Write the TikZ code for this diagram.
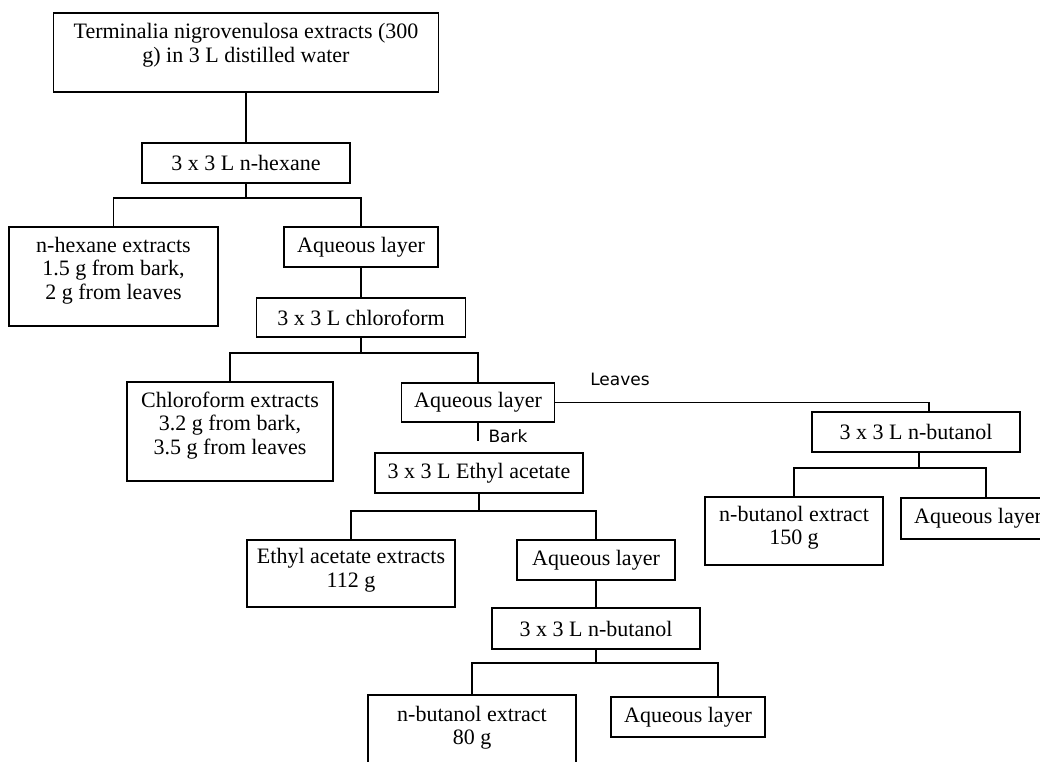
\documentclass[tikz,border=0pt]{standalone}
\usepackage{fontspec}
\setmainfont{Liberation Serif}
\newfontfamily\tagfont{DejaVu Sans}
\begin{document}
\begin{tikzpicture}
        [
            x = 1pt, y = -1pt,
            box/.style={draw, line width=1.8pt, inner sep=0pt, align=center,
                font=\fontsize{22}{23.5}\selectfont},
            solvent/.style={box, minimum width=208pt, minimum height=40pt},
            layer/.style={box, minimum width=154pt, minimum height=40pt},
            extract/.style={box, minimum width=208pt, minimum height=#1},
            tag/.style={inner sep=0pt, font=\tagfont\fontsize{17}{20}\selectfont},
            link/.style={line width=1.8pt},
        ]
        \useasboundingbox (0,0) rectangle (1040,761);
        \node[box, minimum width=385pt, minimum height=79pt, text depth=19pt] (water) at (246,52.5)
            {Terminalia nigrovenulosa extracts (300\\g) in 3 L distilled water};
        \node[solvent] (hexane) at (246,163) {3 x 3 L n-hexane};
        \node[extract=99pt, minimum width=209pt, text depth=17pt] (hexext) at (113.5,276.5)
            {n-hexane extracts\\1.5 g from bark,\\2 g from leaves};
        \node[layer] (aq1) at (361,247) {Aqueous layer};
        \node[solvent, minimum width=209pt, minimum height=39pt] (chloro) at (361,317.5) {3 x 3 L chloroform};
        \node[extract=99pt, minimum width=206pt, text depth=17pt] (chlext) at (230,431.5)
            {Chloroform extracts\\3.2 g from bark,\\3.5 g from leaves};
        \node[layer, minimum width=153pt, minimum height=39pt] (aq2) at (478,402.5) {Aqueous layer};
        \node[solvent] (ethyl) at (479,473) {3 x 3 L Ethyl acetate};
        \node[extract=67pt, text depth=11pt] (ethext) at (351,573.5) {Ethyl acetate extracts\\112 g};
        \node[layer, minimum width=158pt] (aq3) at (596,560) {Aqueous layer};
        \node[solvent, minimum height=41pt] (butA) at (596,628.5) {3 x 3 L n-butanol};
        \node[extract=72pt, text depth=11pt] (butAext) at (472,731) {n-butanol extract\\80 g};
        \node[layer] (aq4) at (688,717) {Aqueous layer};
        \node[solvent] (butB) at (916,432) {3 x 3 L n-butanol};
        \node[extract=68pt, minimum width=178pt, text depth=11pt] (butBext) at (794,531) {n-butanol extract\\150 g};
        \node[layer, minimum height=41pt] (aq5) at (978,518.5) {Aqueous layer};
        \node[tag] (leaves) at (620,379) {Leaves};
        \node[tag] (bark) at (508,436) {Bark};

        \draw[link] (water) -- (hexane);
        \draw[link] (hexane.south) -- ++(0,14) coordinate (hexfork);
        \draw[link] (hexext.north) |- (hexfork) -| (aq1.north);
        \draw[link] (aq1) -- (chloro);
        \draw[link] (chloro.south) -- ++(0,15) coordinate (chlfork);
        \draw[link] (chlext.north) |- (chlfork) -| (aq2.north);
        % leaves go right, bark goes down
        \draw[link] (aq2.east) -| ([xshift=13pt]butB.north);
        \draw[link] (aq2.south) -- ++(0,18) coordinate (barktick);
        \draw[link] (ethyl.south) -- ++(0,17) coordinate (ethfork);
        \draw[link] (ethext.north) |- (ethfork) -| (aq3.north);
        \draw[link] (aq3) -- (butA);
        \draw[link] (butA.south) -- ++(0,13) coordinate (butAfork);
        \draw[link] (butAext.north) |- (butAfork) -| ([xshift=30pt]aq4.north);
        \draw[link] ([xshift=3pt]butB.south) -- ++(0,15) coordinate (butBfork);
        \draw[link] (butBext.north) |- (butBfork) -| ([xshift=8pt]aq5.north);
    \end{tikzpicture}
\end{document}
